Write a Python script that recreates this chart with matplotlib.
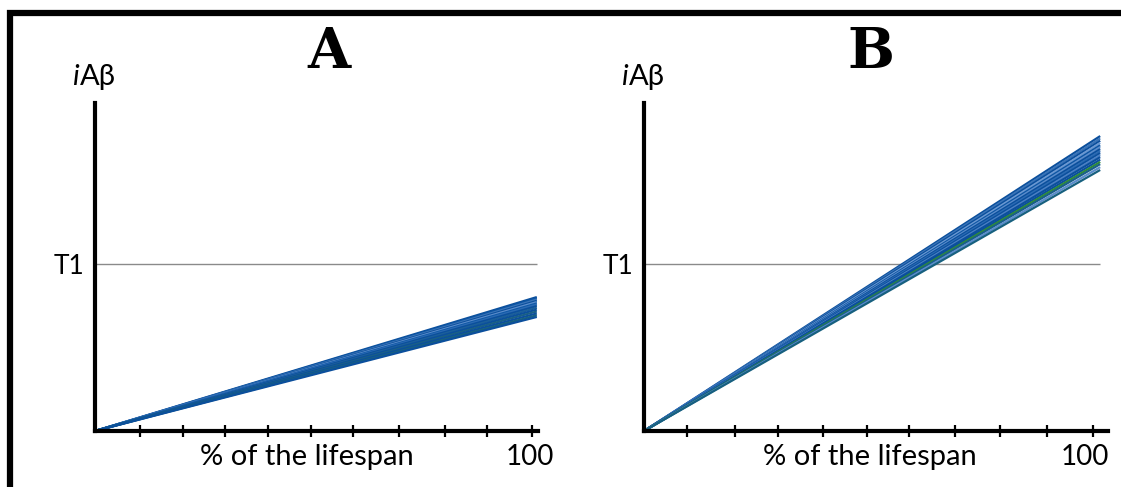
import matplotlib
matplotlib.use("Agg")
import matplotlib.pyplot as plt
from matplotlib.lines import Line2D
from matplotlib.transforms import offset_copy

plt.rcParams['font.family'] = ['Lato', 'DejaVu Sans']

# ---- data ----
# x in % of lifespan, y in units of threshold T1
x_end_A = 101.1
ends_A = [0.802, 0.795, 0.787, 0.779, 0.772, 0.764, 0.757, 0.748,
          0.738, 0.727, 0.716, 0.704, 0.693, 0.683]
colors_A = ['#0b4f9c', '#0d55a3', '#3a74b8', '#0b4f9c', '#5a8ccb', '#0f58a6',
            '#2a6ab3', '#0b4f9c', '#1b5f9a', '#0b4f9c', '#195f86', '#0b4f9c',
            '#17607f', '#0b4f9c']

x_end_B = 101.6
ends_B = [1.766, 1.752, 1.738, 1.725, 1.711, 1.700, 1.688, 1.676, 1.664,
          1.652, 1.640, 1.625, 1.611, 1.598, 1.580, 1.563]
colors_B = ['#0b4f9c', '#3a74b8', '#0b4f9c', '#6a98d2', '#0d55a3', '#5a8ccb',
            '#0b4f9c', '#2a6ab3', '#0b4f9c', '#4a80c4', '#0b4f9c', '#0b4f9c',
            '#2e8b3a', '#195f86', '#5a8ccb', '#17607f']

T1 = 1.0
ticks_A = [10.3, 20.1, 29.7, 39.6, 49.4, 59.0, 69.6, 80.1, 89.7, 100]
ticks_B = [9.6, 20.3, 29.8, 39.9, 49.7, 59.0, 69.3, 79.3, 89.8, 100]

fig = plt.figure(figsize=(11.21, 4.87), dpi=100)
W, H = 1121, 487

# outer frame (only left and top visible)
fig.add_artist(Line2D([10 / W, 10 / W, 1.01], [-0.01, 1 - 13 / H, 1 - 13 / H],
                      transform=fig.transFigure, color='black', lw=4.5,
                      solid_joinstyle='miter'))


def panel(left_px, right_px, tick100_px, ends, colors, x_end, ticks,
          title, title_x, lab_x, hund_dx):
    ax = fig.add_axes([left_px / W, 56 / H, (right_px - left_px) / W, 328 / H])
    xmax = (right_px - left_px) / (tick100_px - left_px) * 100
    ax.set_xlim(0, xmax)
    ax.set_ylim(0, 1.964)
    for s in ['top', 'right']:
        ax.spines[s].set_visible(False)
    for s in ['left', 'bottom']:
        ax.spines[s].set_linewidth(3)
        ax.spines[s].set_color('black')
    ax.hlines(T1, 0, x_end, color='#8a8a8a', lw=1.0, zorder=1)
    for e, c in zip(ends, colors):
        ax.plot([0, x_end], [0, e], color=c, lw=1.6, solid_capstyle='butt', zorder=2)
    ax.set_xticks(ticks)
    ax.set_xticklabels([])
    ax.tick_params(axis='x', direction='inout', length=9, width=1.6, color='black')
    ax.set_yticks([T1])
    ax.set_yticklabels(['T1'], fontsize=19)
    ax.tick_params(axis='y', length=0, pad=8)
    # axis labels
    ax.text(lab_x, -0.04, '% of the lifespan', transform=ax.transAxes,
            ha='center', va='top', fontsize=21)
    tr = offset_copy(ax.get_xaxis_transform(), fig=fig, x=hund_dx, y=0, units='dots')
    ax.text(100, -0.04, '100', transform=tr, ha='center', va='top', fontsize=20)
    # iAβ
    tri = offset_copy(ax.transAxes, fig=fig, x=-15, y=0, units='dots')
    ax.text(0.0, 1.055, 'i', transform=tri, ha='right', va='baseline',
            fontsize=21, style='italic')
    ax.text(0.0, 1.055, 'Aβ', transform=tri, ha='left', va='baseline',
            fontsize=21)
    fig.text(title_x / W, 1 - 68 / H, title, ha='center', va='baseline',
             fontsize=40, fontweight='bold', family='DejaVu Serif')
    return ax


panel(95, 538, 532, ends_A, colors_A, x_end_A, ticks_A, 'A', 329, 0.479, -2)
panel(644, 1108, 1093, ends_B, colors_B, x_end_B, ticks_B, 'B', 871, 0.487, -8)

fig.savefig('out.png', dpi=100)
